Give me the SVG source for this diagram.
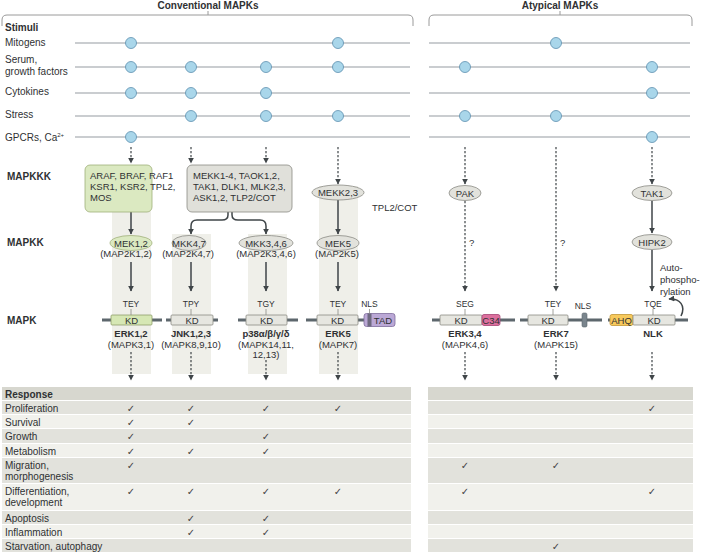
<svg xmlns="http://www.w3.org/2000/svg" width="703" height="552" viewBox="0 0 703 552">
<style>
text { font-family: "Liberation Sans", Arial, sans-serif; fill: #2f3133; }
.lbl { font-size: 10px; }
.b { font-weight: bold; }
.t { font-size: 9.5px; }
.m { text-anchor: middle; }
.s { font-size: 8.5px; }
.br { fill: none; stroke: #9a9a9a; stroke-width: 1; }
.stim { stroke: #b9bdc1; stroke-width: 1.5; }
.dot { fill: #a9d6ea; stroke: #5d8fae; stroke-width: 0.8; }
.dash { stroke: #3f4548; stroke-width: 1.2; stroke-dasharray: 2.2 1.8; fill: none; marker-end: url(#ah); }
.solid { stroke: #3f4548; stroke-width: 1.5; fill: none; marker-end: url(#ah); }
.band { fill: #efefe9; }
.prot { stroke: #5d676d; stroke-width: 3; }
.kd { fill: #e6e6e0; stroke: #8a8a84; stroke-width: 0.8; }
.kdg { fill: #d6e7b4; stroke: #8f9f6a; stroke-width: 0.8; }
.ell { fill: #e2e2dc; stroke: #8a8a84; stroke-width: 0.8; }
.tick { stroke: #8a8a84; stroke-width: 0.8; }
.rowd { fill: #e2e2dc; }
.rowl { fill: #f1f1ec; }
.hdr { fill: #d7d7cf; }
.chk { font-family: "DejaVu Sans", sans-serif; font-size: 10px; fill: #444; text-anchor: middle; }
</style>
<defs>
<marker id="ah" viewBox="0 0 10 10" refX="9" refY="5" markerWidth="6" markerHeight="6" markerUnits="userSpaceOnUse" orient="auto">
<path d="M0,0 L10,5 L0,10 z" fill="#3f4548" stroke="none"/>
</marker>
</defs>

<g id="brackets">
<path class="br" d="M2,26 V20 Q2,15 7,15 H408 Q413,15 413,20 V26"/>
<path class="br" d="M208,11 V15"/>
<text class="lbl b m" x="208" y="9">Conventional MAPKs</text>
<path class="br" d="M429,26 V20 Q429,15 434,15 H687 Q692,15 692,20 V26"/>
<path class="br" d="M560,11 V15"/>
<text class="lbl b m" x="560" y="9">Atypical MAPKs</text>
</g>

<g id="bands">
<rect class="band" x="112" y="210" width="39" height="164"/>
<rect class="band" x="172" y="234" width="39" height="140"/>
<rect class="band" x="248" y="234" width="39" height="140"/>
<rect class="band" x="319" y="186" width="39" height="188"/>
</g>

<g id="stimuli">
<text class="lbl b" x="5" y="31">Stimuli</text>
<text class="lbl" x="5" y="46">Mitogens</text>
<text class="lbl" x="5" y="63">Serum,</text>
<text class="lbl" x="5" y="75">growth factors</text>
<text class="lbl" x="5" y="95">Cytokines</text>
<text class="lbl" x="5" y="118">Stress</text>
<text class="lbl" x="5" y="141">GPCRs, Ca<tspan font-size="6" dy="-4">2+</tspan></text>
<line class="stim" x1="75" y1="43" x2="410" y2="43"/>
<line class="stim" x1="75" y1="67" x2="410" y2="67"/>
<line class="stim" x1="75" y1="93" x2="410" y2="93"/>
<line class="stim" x1="75" y1="116" x2="410" y2="116"/>
<line class="stim" x1="75" y1="137" x2="410" y2="137"/>
<line class="stim" x1="429" y1="43" x2="690" y2="43"/>
<line class="stim" x1="429" y1="67" x2="690" y2="67"/>
<line class="stim" x1="429" y1="93" x2="690" y2="93"/>
<line class="stim" x1="429" y1="116" x2="690" y2="116"/>
<line class="stim" x1="429" y1="137" x2="690" y2="137"/>
<circle class="dot" cx="131" cy="43" r="5.5"/>
<circle class="dot" cx="338" cy="43" r="5.5"/>
<circle class="dot" cx="556" cy="43" r="5.5"/>
<circle class="dot" cx="131" cy="67" r="5.5"/>
<circle class="dot" cx="191" cy="67" r="5.5"/>
<circle class="dot" cx="266" cy="67" r="5.5"/>
<circle class="dot" cx="338" cy="67" r="5.5"/>
<circle class="dot" cx="465" cy="67" r="5.5"/>
<circle class="dot" cx="652" cy="67" r="5.5"/>
<circle class="dot" cx="131" cy="93" r="5.5"/>
<circle class="dot" cx="191" cy="93" r="5.5"/>
<circle class="dot" cx="266" cy="93" r="5.5"/>
<circle class="dot" cx="652" cy="93" r="5.5"/>
<circle class="dot" cx="191" cy="116" r="5.5"/>
<circle class="dot" cx="266" cy="116" r="5.5"/>
<circle class="dot" cx="338" cy="116" r="5.5"/>
<circle class="dot" cx="465" cy="116" r="5.5"/>
<circle class="dot" cx="556" cy="116" r="5.5"/>
<circle class="dot" cx="131" cy="137" r="5.5"/>
<circle class="dot" cx="652" cy="137" r="5.5"/>
</g>

<g id="rowlabels">
<text class="lbl b" x="7" y="180">MAPKKK</text>
<text class="lbl b" x="7" y="246">MAPKK</text>
<text class="lbl b" x="7" y="324">MAPK</text>
</g>

<g id="connectors">
<path class="dash" d="M131,147 V163"/>
<path class="dash" d="M191,147 V163"/>
<path class="dash" d="M266,147 V163"/>
<path class="dash" d="M338,147 V184"/>
<path class="dash" d="M465,147 V184"/>
<path class="dash" d="M556,147 V291"/>
<path class="dash" d="M652,147 V184"/>
<path class="solid" d="M131,212 V234"/>
<path class="solid" d="M228,212 V215 Q228,220 222,220 H197 Q191,220 191,226 V234"/>
<path class="solid" d="M232,212 V215 Q232,220 238,220 H260 Q266,220 266,226 V234"/>
<path class="solid" d="M338,200 V234"/>
<path class="dash" d="M465,201 V291"/>
<path class="solid" d="M652,201 V233"/>
<path class="solid" d="M131,262 V291"/>
<path class="solid" d="M191,262 V291"/>
<path class="solid" d="M266,262 V291"/>
<path class="solid" d="M338,262 V291"/>
<path class="solid" d="M652,250 V291"/>
<path class="solid" d="M681,316 C686,306 680,298 669,299" stroke-width="1"/>
<path class="dash" d="M131,352 V380"/>
<path class="dash" d="M191,352 V380"/>
<path class="dash" d="M266,360 V380"/>
<path class="dash" d="M338,352 V380"/>
<path class="dash" d="M465,352 V380"/>
<path class="dash" d="M556,352 V380"/>
<path class="dash" d="M652,352 V380"/>
<text class="t" x="469" y="246">?</text>
<text class="t" x="560" y="246">?</text>
<text class="t" x="660" y="271">Auto-</text>
<text class="t" x="660" y="283">phospho-</text>
<text class="t" x="660" y="295">rylation</text>
</g>

<g id="raf-box">
<rect x="85" y="165" width="67" height="47" rx="5" fill="#dbe9c1" stroke="#9fb07a" stroke-width="0.8"/>
<text class="t" x="90" y="179">ARAF, BRAF, RAF1</text>
<text class="t" x="90" y="190">KSR1, KSR2, TPL2,</text>
<text class="t" x="90" y="201">MOS</text>
</g>
<g id="mekk-box">
<rect x="187" y="165" width="105" height="47" rx="5" fill="#e0e0da" stroke="#8a8a84" stroke-width="0.8"/>
<text class="t" x="193" y="179">MEKK1-4, TAOK1,2,</text>
<text class="t" x="193" y="190">TAK1, DLK1, MLK2,3,</text>
<text class="t" x="193" y="201">ASK1,2, TLP2/COT</text>
</g>
<g id="mekk23">
<ellipse class="ell" cx="338" cy="192.5" rx="26" ry="7.5"/>
<text class="t m" x="338" y="196">MEKK2,3</text>
<text class="t" x="372" y="211">TPL2/COT</text>
</g>
<g id="pak">
<ellipse class="ell" cx="465" cy="193" rx="16" ry="7.5"/>
<text class="t m" x="465" y="196.5">PAK</text>
</g>
<g id="tak1">
<ellipse class="ell" cx="652" cy="193" rx="20" ry="7.5"/>
<text class="t m" x="652" y="196.5">TAK1</text>
</g>

<g id="mek12">
<ellipse cx="131" cy="243" rx="21" ry="7.5" fill="#dbe9c1" stroke="#9fb07a" stroke-width="0.8"/>
<text class="t m" x="131" y="246.5">MEK1,2</text>
<text class="t m" x="126" y="257">(MAP2K1,2)</text>
</g>
<g id="mkk47">
<ellipse class="ell" cx="189" cy="243" rx="17" ry="7.5"/>
<text class="t m" x="189" y="246.5">MKK4,7</text>
<text class="t m" x="188" y="257">(MAP2K4,7)</text>
</g>
<g id="mkk346">
<ellipse class="ell" cx="266" cy="243" rx="27" ry="7.5"/>
<text class="t m" x="266" y="246.5">MKK3,4,6</text>
<text class="t m" x="266" y="257">(MAP2K3,4,6)</text>
</g>
<g id="mek5">
<ellipse class="ell" cx="338" cy="243" rx="21" ry="7.5"/>
<text class="t m" x="338" y="246.5">MEK5</text>
<text class="t m" x="337" y="257">(MAP2K5)</text>
</g>
<g id="hipk2">
<ellipse class="ell" cx="652" cy="242" rx="20" ry="7.5"/>
<text class="t m" x="652" y="245.5">HIPK2</text>
</g>

<g id="erk12">
<line class="prot" x1="102" y1="320" x2="162" y2="320"/>
<rect class="kdg" x="111" y="315" width="41" height="10" rx="1"/>
<text class="t m" x="131.5" y="323.5">KD</text>
<line class="tick" x1="131" y1="309" x2="131" y2="315"/>
<text class="s m" x="131" y="307">TEY</text>
<text class="t b m" x="131" y="337">ERK1,2</text>
<text class="t m" x="131" y="348">(MAPK3,1)</text>
</g>
<g id="jnk">
<line class="prot" x1="166" y1="320" x2="218" y2="320"/>
<rect class="kd" x="171" y="315" width="42" height="10" rx="1"/>
<text class="t m" x="192" y="323.5">KD</text>
<line class="tick" x1="191" y1="309" x2="191" y2="315"/>
<text class="s m" x="191" y="307">TPY</text>
<text class="t b m" x="191" y="337">JNK1,2,3</text>
<text class="t m" x="191" y="348">(MAPK8,9,10)</text>
</g>
<g id="p38">
<line class="prot" x1="238" y1="320" x2="298" y2="320"/>
<rect class="kd" x="246" y="315" width="41" height="10" rx="1"/>
<text class="t m" x="266.5" y="323.5">KD</text>
<line class="tick" x1="266" y1="309" x2="266" y2="315"/>
<text class="s m" x="266" y="307">TGY</text>
<text class="t b m" x="266" y="337">p38α/β/γ/δ</text>
<text class="t m" x="266" y="348">(MAPK14,11,</text>
<text class="t m" x="266" y="358">12,13)</text>
</g>
<g id="erk5">
<line class="prot" x1="306" y1="320" x2="365" y2="320"/>
<rect class="kd" x="317" y="315" width="41" height="10" rx="1"/>
<text class="t m" x="337.5" y="323.5">KD</text>
<line class="tick" x1="338" y1="309" x2="338" y2="315"/>
<text class="s m" x="338" y="307">TEY</text>
<rect x="364" y="313.5" width="31" height="13" rx="2.5" fill="#bba8d6" stroke="#7f6d9c" stroke-width="0.8"/>
<rect x="367.5" y="313.5" width="4" height="13" fill="#6f6a80"/>
<text class="t m" x="383" y="323.5">TAD</text>
<line class="tick" x1="369.5" y1="309" x2="369.5" y2="313.5"/>
<text class="s m" x="369.5" y="307">NLS</text>
<text class="t b m" x="338" y="337">ERK5</text>
<text class="t m" x="338" y="348">(MAPK7)</text>
</g>
<g id="erk34">
<line class="prot" x1="432" y1="320" x2="515" y2="320"/>
<rect class="kd" x="440" y="315" width="42" height="10" rx="1"/>
<text class="t m" x="461" y="323.5">KD</text>
<rect x="482" y="314.5" width="18" height="11" rx="2" fill="#dc6f9d" stroke="#a64474" stroke-width="0.8"/>
<text class="t m" x="491" y="323.5">C34</text>
<line class="tick" x1="465" y1="309" x2="465" y2="315"/>
<text class="s m" x="465" y="307">SEG</text>
<text class="t b m" x="465" y="337">ERK3,4</text>
<text class="t m" x="465" y="348">(MAPK4,6)</text>
</g>
<g id="erk7">
<line class="prot" x1="520" y1="320" x2="602" y2="320"/>
<rect class="kd" x="528" y="315" width="40" height="10" rx="1"/>
<text class="t m" x="548" y="323.5">KD</text>
<rect x="582" y="313" width="5" height="14" rx="1.5" fill="#7a858d" stroke="#5d676d" stroke-width="0.6"/>
<line class="tick" x1="553" y1="309" x2="553" y2="315"/>
<text class="s m" x="553" y="307">TEY</text>
<text class="s m" x="583" y="309">NLS</text>
<text class="t b m" x="556" y="337">ERK7</text>
<text class="t m" x="556" y="348">(MAPK15)</text>
</g>
<g id="nlk">
<line class="prot" x1="608" y1="320" x2="688" y2="320"/>
<rect x="610" y="314.5" width="23" height="11" rx="2" fill="#f7c95c" stroke="#c29535" stroke-width="0.8"/>
<text class="t m" x="621.5" y="323.5">AHQ</text>
<rect class="kd" x="633" y="315" width="42" height="10" rx="1"/>
<text class="t m" x="654" y="323.5">KD</text>
<line class="tick" x1="653" y1="309" x2="653" y2="315"/>
<text class="s m" x="653" y="307">TQE</text>
<text class="t b m" x="653" y="337">NLK</text>
</g>

<g id="response">
<rect class="hdr" x="2" y="387" width="409" height="13"/>
<rect class="hdr" x="428" y="387" width="265" height="13"/>
<rect class="rowd" x="2" y="401" width="409" height="13"/>
<rect class="rowd" x="428" y="401" width="265" height="13"/>
<rect class="rowl" x="2" y="415" width="409" height="13"/>
<rect class="rowl" x="428" y="415" width="265" height="13"/>
<rect class="rowd" x="2" y="429" width="409" height="14"/>
<rect class="rowd" x="428" y="429" width="265" height="14"/>
<rect class="rowl" x="2" y="444" width="409" height="13"/>
<rect class="rowl" x="428" y="444" width="265" height="13"/>
<rect class="rowd" x="2" y="458" width="409" height="25"/>
<rect class="rowd" x="428" y="458" width="265" height="25"/>
<rect class="rowl" x="2" y="484" width="409" height="26"/>
<rect class="rowl" x="428" y="484" width="265" height="26"/>
<rect class="rowd" x="2" y="511" width="409" height="13"/>
<rect class="rowd" x="428" y="511" width="265" height="13"/>
<rect class="rowl" x="2" y="525" width="409" height="13"/>
<rect class="rowl" x="428" y="525" width="265" height="13"/>
<rect class="rowd" x="2" y="539" width="409" height="13"/>
<rect class="rowd" x="428" y="539" width="265" height="13"/>
<text class="lbl b" x="5" y="397.5">Response</text>
<text class="lbl" x="5" y="411.5">Proliferation</text>
<text class="lbl" x="5" y="425.5">Survival</text>
<text class="lbl" x="5" y="440">Growth</text>
<text class="lbl" x="5" y="454.5">Metabolism</text>
<text class="lbl" x="5" y="468.5">Migration,</text>
<text class="lbl" x="5" y="480">morphogenesis</text>
<text class="lbl" x="5" y="494.5">Differentiation,</text>
<text class="lbl" x="5" y="506">development</text>
<text class="lbl" x="5" y="521.5">Apoptosis</text>
<text class="lbl" x="5" y="535.5">Inflammation</text>
<text class="lbl" x="5" y="549.5">Starvation, autophagy</text>
<text class="chk" x="131" y="411.5">✓</text>
<text class="chk" x="191" y="411.5">✓</text>
<text class="chk" x="266" y="411.5">✓</text>
<text class="chk" x="338" y="411.5">✓</text>
<text class="chk" x="652" y="411.5">✓</text>
<text class="chk" x="131" y="425.5">✓</text>
<text class="chk" x="191" y="425.5">✓</text>
<text class="chk" x="131" y="440">✓</text>
<text class="chk" x="266" y="440">✓</text>
<text class="chk" x="131" y="454.5">✓</text>
<text class="chk" x="191" y="454.5">✓</text>
<text class="chk" x="266" y="454.5">✓</text>
<text class="chk" x="131" y="468.5">✓</text>
<text class="chk" x="465" y="468.5">✓</text>
<text class="chk" x="556" y="468.5">✓</text>
<text class="chk" x="131" y="494.5">✓</text>
<text class="chk" x="191" y="494.5">✓</text>
<text class="chk" x="266" y="494.5">✓</text>
<text class="chk" x="338" y="494.5">✓</text>
<text class="chk" x="465" y="494.5">✓</text>
<text class="chk" x="652" y="494.5">✓</text>
<text class="chk" x="191" y="521.5">✓</text>
<text class="chk" x="266" y="521.5">✓</text>
<text class="chk" x="191" y="535.5">✓</text>
<text class="chk" x="266" y="535.5">✓</text>
<text class="chk" x="556" y="549.5">✓</text>
</g>
</svg>
